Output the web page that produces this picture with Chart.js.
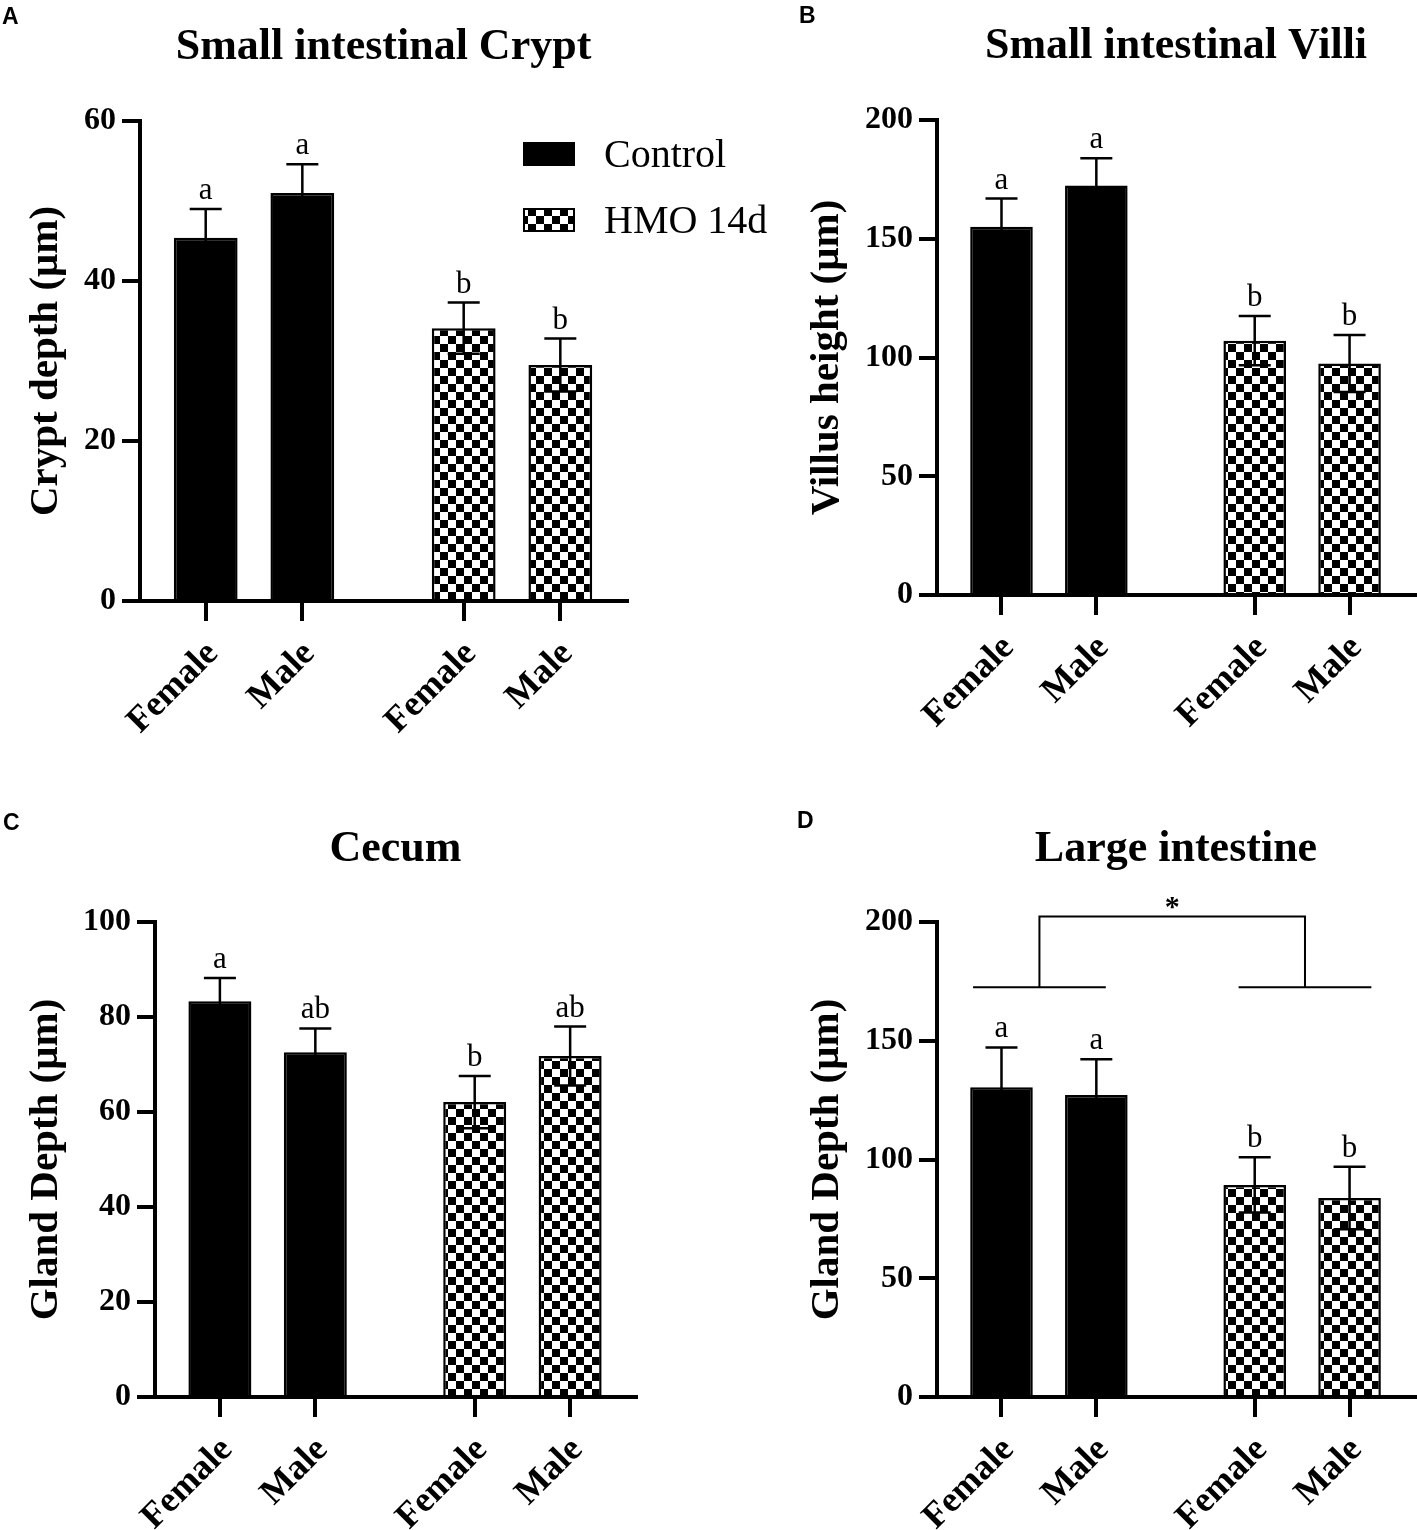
<!DOCTYPE html>
<html>
<head>
<meta charset="utf-8">
<title>Intestinal morphology</title>
<script src="https://cdn.jsdelivr.net/npm/chart.js@4.4.1/dist/chart.umd.min.js"></script>
<style>
  body { margin: 0; background: #fff; }
  #page { position: relative; width: 1417px; height: 1530px; overflow: hidden; background: #fff; }
  .panel { position: absolute; }
  .tag { position: absolute; font: bold 23px/23px "Liberation Sans", Arial, sans-serif; color: #000; }
</style>
</head>
<body>
<div id="page">
  <div class="panel" style="left:0;top:0"><canvas id="chartA" width="800" height="765"></canvas></div>
  <div class="panel" style="left:708px;top:0"><canvas id="chartB" width="709" height="765"></canvas></div>
  <div class="panel" style="left:0;top:765px"><canvas id="chartC" width="708" height="765"></canvas></div>
  <div class="panel" style="left:708px;top:765px"><canvas id="chartD" width="709" height="765"></canvas></div>
  <div class="tag" style="left:2px;top:5px">A</div>
  <div class="tag" style="left:799px;top:4px">B</div>
  <div class="tag" style="left:3px;top:811px">C</div>
  <div class="tag" style="left:797px;top:809px">D</div>
</div>
<script>
// bar order: Control female, Control male, HMO female, HMO male
const sexLabels = ['Female', 'Male', 'Female', 'Male'];
const groupLabels = ['Control', 'HMO 14d'];
const groupOfBar = [0, 0, 1, 1];

const cryptMean = [45.4, 51.0, 34.1, 29.5];
const cryptSem = [3.6, 3.6, 3.2, 3.3];
const cryptLetters = ['a', 'a', 'b', 'b'];
const cryptTicks = [0, 20, 40, 60];

const villiMean = [155.1, 172.4, 107.1, 97.5];
const villiSem = [11.8, 11.5, 10.4, 12.0];
const villiLetters = ['a', 'a', 'b', 'b'];
const villiTicks = [0, 50, 100, 150, 200];

const cecumMean = [83.3, 72.6, 62.1, 71.8];
const cecumSem = [4.9, 5.0, 5.5, 6.2];
const cecumLetters = ['a', 'ab', 'b', 'ab'];
const cecumTicks = [0, 20, 40, 60, 80, 100];

const largeMean = [130.4, 127.2, 89.3, 83.8];
const largeSem = [16.8, 15.0, 11.6, 13.2];
const largeLetters = ['a', 'a', 'b', 'b'];
const largeTicks = [0, 50, 100, 150, 200];
const largeBracketLevels = [172.5, 202.3];
const largeBracketMark = '*';

const SERIF = "'Liberation Serif', 'Times New Roman', serif";
const GROUP_GAP = 0.67; // extra space between Control and HMO groups (in bar units)
const slot = i => i + (groupOfBar[i] ? GROUP_GAP : 0);

function checkerPattern(ctx) {
  const tile = document.createElement('canvas');
  tile.width = 16; tile.height = 16;
  const g = tile.getContext('2d');
  g.fillStyle = '#fff'; g.fillRect(0, 0, 16, 16);
  g.fillStyle = '#000'; g.fillRect(0, 0, 8, 8); g.fillRect(8, 8, 8, 8);
  return ctx.createPattern(tile, 'repeat');
}

// error bars (mean +/- SEM) and significance letters
const errorBarsPlugin = {
  id: 'errorBars',
  afterDatasetsDraw(chart, args, opts) {
    const { ctx } = chart;
    const y = chart.scales.y;
    const meta = chart.getDatasetMeta(0);
    ctx.save();
    ctx.strokeStyle = '#000';
    ctx.fillStyle = '#000';
    ctx.lineWidth = 2.5;
    ctx.font = `31px ${SERIF}`;
    ctx.textAlign = 'center';
    ctx.textBaseline = 'alphabetic';
    meta.data.forEach((bar, i) => {
      const hi = y.getPixelForValue(opts.mean[i] + opts.sem[i]);
      const lo = y.getPixelForValue(opts.mean[i] - opts.sem[i]);
      ctx.beginPath();
      ctx.moveTo(bar.x, lo); ctx.lineTo(bar.x, hi);
      ctx.moveTo(bar.x - 16, hi); ctx.lineTo(bar.x + 16, hi);
      ctx.moveTo(bar.x - 16, lo); ctx.lineTo(bar.x + 16, lo);
      ctx.stroke();
      ctx.fillText(opts.letters[i], bar.x, hi - 10);
    });
    ctx.restore();
  }
};

// legend drawn inside the plot of panel A
const boxLegendPlugin = {
  id: 'boxLegend',
  afterDraw(chart, args, opts) {
    if (!opts.labels) return;
    const { ctx, chartArea } = chart;
    ctx.save();
    ctx.font = `40px ${SERIF}`;
    ctx.textBaseline = 'alphabetic';
    opts.labels.forEach((label, i) => {
      const top = chartArea.top + 21 + i * 66;
      ctx.fillStyle = opts.fills[i];
      ctx.fillRect(chartArea.right - 104, top, 52, 24);
      ctx.strokeStyle = '#000';
      ctx.lineWidth = 2;
      ctx.strokeRect(chartArea.right - 103, top + 1, 50, 22);
      ctx.fillStyle = '#000';
      ctx.fillText(label, chartArea.right - 23, top + 25);
    });
    ctx.restore();
  }
};

// Control vs HMO comparison bracket (panel D)
const bracketPlugin = {
  id: 'groupBracket',
  afterDraw(chart, args, opts) {
    if (!opts.levels) return;
    const { ctx } = chart;
    const { x, y } = chart.scales;
    const yLow = y.getPixelForValue(opts.levels[0]);
    const yHigh = y.getPixelForValue(opts.levels[1]);
    const drops = opts.spans.map(([a, b]) => (x.getPixelForValue(a) + x.getPixelForValue(b)) / 2);
    ctx.save();
    ctx.strokeStyle = '#000';
    ctx.lineWidth = 2;
    ctx.beginPath();
    opts.spans.forEach(([a, b]) => {
      ctx.moveTo(x.getPixelForValue(a), yLow);
      ctx.lineTo(x.getPixelForValue(b), yLow);
    });
    ctx.moveTo(drops[0], yLow);
    ctx.lineTo(drops[0], yHigh);
    ctx.lineTo(drops[1], yHigh);
    ctx.lineTo(drops[1], yLow);
    ctx.stroke();
    ctx.fillStyle = '#000';
    ctx.font = `bold 30px ${SERIF}`;
    ctx.textAlign = 'center';
    ctx.textBaseline = 'alphabetic';
    ctx.fillText(opts.mark, (drops[0] + drops[1]) / 2, yHigh - 1);
    ctx.restore();
  }
};

function buildChart(canvasId, cfg) {
  const canvas = document.getElementById(canvasId);
  const ctx = canvas.getContext('2d');
  const checker = checkerPattern(ctx);
  const fills = ['#000', checker];
  const ticks = cfg.ticks;

  return new Chart(ctx, {
    type: 'bar',
    data: {
      datasets: [{
        data: cfg.mean.map((v, i) => ({ x: slot(i), y: v })),
        backgroundColor: groupOfBar.map(g => fills[g]),
        borderColor: '#000',
        borderWidth: 2.5,
        categoryPercentage: 1,
        barPercentage: 0.66
      }]
    },
    options: {
      responsive: false,
      animation: false,
      events: [],
      layout: { padding: cfg.padding },
      scales: {
        x: {
          type: 'linear',
          offset: false,
          min: -0.68,
          max: 4.36,
          afterBuildTicks: s => { s.ticks = sexLabels.map((_, i) => ({ value: slot(i) })); },
          afterFit: s => { s.height = cfg.xHeight; },
          ticks: {
            autoSkip: false,
            minRotation: 45,
            maxRotation: 45,
            padding: 12,
            labelOffset: 7,
            color: '#000',
            font: { family: SERIF, size: 36, weight: 'bold' },
            callback: (value, index) => sexLabels[index]
          },
          grid: { offset: false, drawOnChartArea: false, drawTicks: true, tickLength: 20, lineWidth: 4, color: '#000' },
          border: { display: true, width: 4, color: '#000' }
        },
        y: {
          min: 0,
          max: ticks[ticks.length - 1],
          afterBuildTicks: s => { s.ticks = ticks.map(v => ({ value: v })); },
          afterFit: s => { s.width = cfg.yWidth; },
          ticks: {
            padding: 6,
            color: '#000',
            font: { family: SERIF, size: 32, weight: 'bold' }
          },
          grid: { drawOnChartArea: false, drawTicks: true, tickLength: 18, lineWidth: 4, color: '#000' },
          border: { display: true, width: 4, color: '#000' },
          title: {
            display: true,
            text: cfg.yTitle,
            color: '#000',
            font: { family: SERIF, size: 41, weight: 'bold', lineHeight: 1.2 },
            padding: { top: 22, bottom: 0 }
          }
        }
      },
      plugins: {
        legend: { display: false },
        tooltip: { enabled: false },
        title: {
          display: true,
          text: cfg.title,
          fullSize: false,
          color: '#000',
          font: { family: SERIF, size: 44, weight: 'bold', lineHeight: 1.2 },
          padding: cfg.titlePadding
        },
        errorBars: { mean: cfg.mean, sem: cfg.sem, letters: cfg.letters },
        boxLegend: cfg.legend ? { labels: groupLabels, fills } : {},
        groupBracket: cfg.bracket || {}
      }
    },
    plugins: [errorBarsPlugin, boxLegendPlugin, bracketPlugin]
  });
}

buildChart('chartA', {
  title: 'Small intestinal Crypt',
  yTitle: 'Crypt depth (\u03bcm)',
  mean: cryptMean, sem: cryptSem, letters: cryptLetters, ticks: cryptTicks,
  padding: { left: 0, right: 173, top: 0, bottom: 0 },
  yWidth: 140, xHeight: 164,
  titlePadding: { top: 21, bottom: 47.2 },
  legend: true
});

buildChart('chartB', {
  title: 'Small intestinal Villi',
  yTitle: 'Villus height (\u03bcm)',
  mean: villiMean, sem: villiSem, letters: villiLetters, ticks: villiTicks,
  padding: { left: 73, right: 2, top: 0, bottom: 0 },
  yWidth: 156, xHeight: 170,
  titlePadding: { top: 20, bottom: 47.2 }
});

buildChart('chartC', {
  title: 'Cecum',
  yTitle: 'Gland Depth (\u03bcm)',
  mean: cecumMean, sem: cecumSem, letters: cecumLetters, ticks: cecumTicks,
  padding: { left: 0, right: 72, top: 0, bottom: 0 },
  yWidth: 155, xHeight: 133,
  titlePadding: { top: 58, bottom: 46.2 }
});

buildChart('chartD', {
  title: 'Large intestine',
  yTitle: 'Gland Depth (\u03bcm)',
  mean: largeMean, sem: largeSem, letters: largeLetters, ticks: largeTicks,
  padding: { left: 73, right: 2, top: 0, bottom: 0 },
  yWidth: 156, xHeight: 133,
  titlePadding: { top: 58, bottom: 46.2 },
  bracket: { levels: largeBracketLevels, mark: largeBracketMark, spans: [[-0.3, 1.1], [2.5, 3.9]] }
});
</script>
</body>
</html>
